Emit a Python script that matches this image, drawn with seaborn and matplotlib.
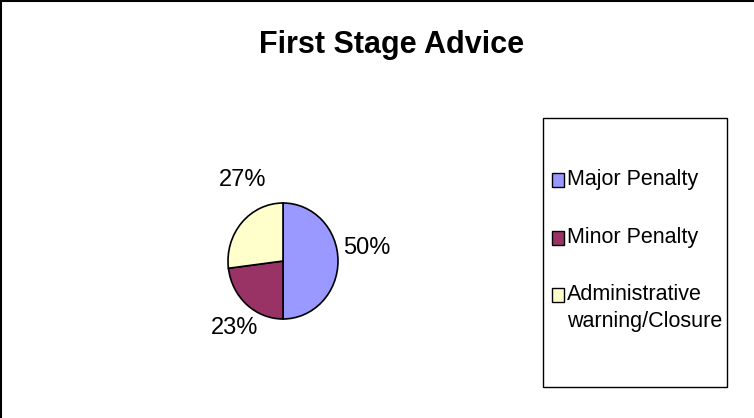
import matplotlib
matplotlib.use("Agg")
import matplotlib.pyplot as plt
import seaborn as sns
from matplotlib.lines import Line2D
from matplotlib.patches import Rectangle

# data
categories = ["Major Penalty", "Minor Penalty", "Administrative\nwarning/Closure"]
shares = [50, 23, 27]
colors = ["#9999FF", "#993366", "#FFFFCC"]
pct_labels = ["50%", "23%", "27%"]

sns.set_theme(style="white")
plt.rcParams["font.family"] = ["Liberation Sans", "DejaVu Sans"]

W, H = 754, 418
fig = plt.figure(figsize=(W / 100, H / 100), dpi=100)
fig.patch.set_facecolor("white")

# pie axes: 1 data unit = 55 px horizontally, 58 px vertically
cx, cy, rx, ry = 283, 261, 55, 58
ax = fig.add_axes([(cx - 2 * rx) / W, (H - cy - 2 * ry) / H, 4 * rx / W, 4 * ry / H])
wedges, _ = ax.pie(shares, colors=colors, startangle=90, counterclock=False,
                   wedgeprops=dict(edgecolor="black", linewidth=1.2))
ax.set_aspect("auto")
ax.set_xlim(-2, 2)
ax.set_ylim(-2, 2)
ax.axis("off")

# percentage labels placed outside each wedge (offsets in data units)
label_pos = {"50%": (1.1, 0.22, "left"), "23%": (-0.45, -1.16, "right"), "27%": (-0.3, 1.4, "right")}
for lab in pct_labels:
    x, y, ha = label_pos[lab]
    ax.text(x, y, lab, ha=ha, va="center", fontsize=17, color="black", clip_on=False)

fig.suptitle("First Stage Advice", x=392 / W, y=1 - 45 / H, va="center",
             fontsize=22, fontweight="bold", color="black")

# legend drawn as a boxed key on the right
box = Rectangle((543 / W, 1 - 387 / H), (727 - 543) / W, (387 - 118) / H,
                transform=fig.transFigure, facecolor="white", edgecolor="black", lw=1)
fig.add_artist(box)
key_x, key_top, key_step = 552, 180, 57.5
for i, (cat, col) in enumerate(zip(categories, colors)):
    yc = key_top + i * key_step
    fig.add_artist(Rectangle((key_x / W, 1 - (yc + 7) / H), 12 / W, 14 / H,
                             transform=fig.transFigure, facecolor=col,
                             edgecolor="black", lw=1))
    fig.text((key_x + 15) / W, 1 - (yc - 11) / H, cat, ha="left", va="top",
             fontsize=15.5, color="black", linespacing=1.35)

# partial outer frame (left and top edges)
fig.add_artist(Line2D([0.5 / W, 0.5 / W], [0, 1], color="black", lw=1.5, transform=fig.transFigure))
fig.add_artist(Line2D([0, 1], [1 - 0.5 / H, 1 - 0.5 / H], color="black", lw=1.5, transform=fig.transFigure))

fig.savefig("out.png", dpi=100)
